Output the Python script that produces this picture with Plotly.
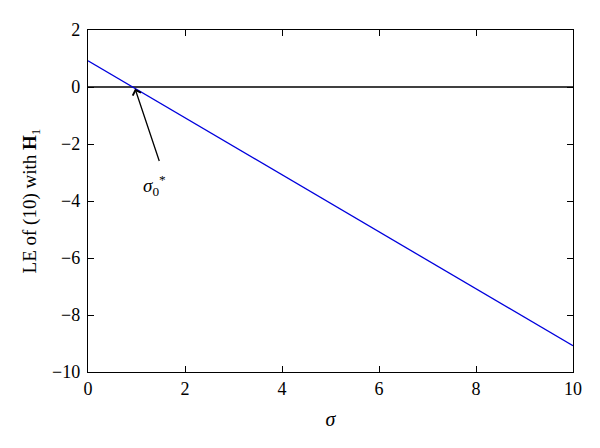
import plotly.graph_objects as go

# Data
sigma = [0, 10]
le_values = [0.92, -9.08]
zero_x = [0, 10]
zero_y = [0, 0]
x_ticks = [0, 2, 4, 6, 8, 10]
y_ticks = [-10, -8, -6, -4, -2, 0, 2]

# annotation: arrow head / tail / label (data coords)
arrow_head = (0.97, -0.06)
arrow_tail = (1.48, -2.65)
label_pos = (1.38, -3.45)

FONT = "Liberation Serif, Times New Roman, serif"

fig = go.Figure()
fig.add_trace(go.Scatter(x=zero_x, y=zero_y, mode="lines",
                         line=dict(color="black", width=1.3), showlegend=False))
fig.add_trace(go.Scatter(x=sigma, y=le_values, mode="lines",
                         line=dict(color="#0000dd", width=1.3), showlegend=False))

fig.add_annotation(x=arrow_head[0], y=arrow_head[1], ax=arrow_tail[0], ay=arrow_tail[1],
                   xref="x", yref="y", axref="x", ayref="y", text="",
                   showarrow=True, arrowhead=4, arrowsize=1.3, arrowwidth=1.3,
                   arrowcolor="black")
fig.add_annotation(x=label_pos[0], y=label_pos[1], xref="x", yref="y",
                   text="<i>σ</i><sub>0</sub><sup>*</sup>", showarrow=False,
                   font=dict(family=FONT, size=19, color="black"))

axis_common = dict(showgrid=False, zeroline=False, showline=True, linecolor="black",
                   linewidth=1.3, mirror="ticks", ticks="inside", ticklen=6,
                   tickcolor="black", tickwidth=1,
                   tickfont=dict(family=FONT, size=18, color="black"))

fig.update_xaxes(range=[0, 10], tickvals=x_ticks,
                 title=dict(text="<i>σ</i>", font=dict(family=FONT, size=20, color="black"),
                            standoff=14),
                 **axis_common)
fig.update_yaxes(range=[-10, 2], tickvals=y_ticks,
                 ticktext=[("−" + str(-v)) if v < 0 else str(v) for v in y_ticks],
                 ticklabelstandoff=3,
                 title=dict(text="LE of (10) with <b>H</b><sub>1</sub>",
                            font=dict(family=FONT, size=19, color="black"), standoff=10),
                 **axis_common)

fig.update_layout(width=600, height=448, margin=dict(l=88, r=27, t=30, b=76),
                  plot_bgcolor="white", paper_bgcolor="white",
                  font=dict(family=FONT, color="black"))

fig.write_html("out.html", config={"displayModeBar": False},
               post_script="document.body.style.margin='0';")
